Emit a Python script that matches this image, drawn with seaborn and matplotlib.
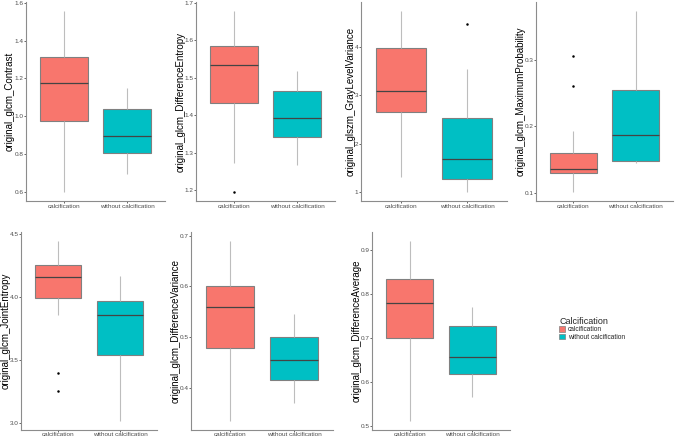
import pandas as pd
import seaborn as sns
from matplotlib import pyplot as plt
from matplotlib.patches import Patch

groups = ["calcification", "without calcification"]
colors = ["#F8766D", "#00BFC4"]

# 13 values per group (whiskers, quartiles, median, outliers)
contrast_calc = [0.600, 0.78, 0.90, 0.974, 1.05, 1.12, 1.177, 1.22, 1.27, 1.314, 1.38, 1.46, 1.556]
contrast_wo = [0.695, 0.74, 0.78, 0.805, 0.84, 0.87, 0.895, 0.94, 0.99, 1.039, 1.08, 1.12, 1.150]
diffent_calc = [1.195, 1.273, 1.38, 1.433, 1.47, 1.51, 1.535, 1.55, 1.57, 1.584, 1.61, 1.64, 1.678]
diffent_wo = [1.266, 1.30, 1.32, 1.341, 1.36, 1.38, 1.393, 1.42, 1.44, 1.465, 1.48, 1.50, 1.519]
glv_calc = [1.31, 1.9, 2.4, 2.655, 2.8, 2.95, 3.09, 3.4, 3.7, 3.966, 4.2, 4.5, 4.738]
glv_wo = [1.0, 1.1, 1.2, 1.276, 1.4, 1.55, 1.683, 1.9, 2.2, 2.52, 3.0, 3.545, 4.47]
maxprob_calc = [0.101, 0.115, 0.125, 0.1297, 0.132, 0.134, 0.1363, 0.142, 0.150, 0.1595, 0.193, 0.2607, 0.3065]
maxprob_wo = [0.1453, 0.1462, 0.1470, 0.1479, 0.160, 0.175, 0.1866, 0.205, 0.230, 0.2552, 0.29, 0.33, 0.3746]
jointent_calc = [3.254, 3.399, 3.857, 3.992, 4.05, 4.11, 4.159, 4.19, 4.22, 4.254, 4.31, 4.38, 4.447]
jointent_wo = [3.013, 3.25, 3.42, 3.540, 3.65, 3.77, 3.855, 3.90, 3.94, 3.971, 4.03, 4.10, 4.167]
diffvar_calc = [0.3346, 0.39, 0.44, 0.4793, 0.51, 0.54, 0.560, 0.575, 0.59, 0.600, 0.63, 0.66, 0.6895]
diffvar_wo = [0.370, 0.39, 0.405, 0.4151, 0.43, 0.445, 0.455, 0.47, 0.485, 0.4996, 0.515, 0.53, 0.546]
diffavg_calc = [0.5113, 0.59, 0.66, 0.6996, 0.73, 0.76, 0.7787, 0.80, 0.82, 0.833, 0.86, 0.89, 0.9196]
diffavg_wo = [0.5663, 0.59, 0.61, 0.6183, 0.63, 0.645, 0.6567, 0.68, 0.70, 0.7267, 0.74, 0.755, 0.7697]

features = [
    ("original_glcm_Contrast", contrast_calc, contrast_wo, [0.6, 0.8, 1.0, 1.2, 1.4, 1.6], "{:.1f}"),
    ("original_glcm_DifferenceEntropy", diffent_calc, diffent_wo, [1.2, 1.3, 1.4, 1.5, 1.6, 1.7], "{:.1f}"),
    ("original_glszm_GrayLevelVariance", glv_calc, glv_wo, [1, 2, 3, 4], "{:.0f}"),
    ("original_glcm_MaximumProbability", maxprob_calc, maxprob_wo, [0.1, 0.2, 0.3], "{:.1f}"),
    ("original_glcm_JointEntropy", jointent_calc, jointent_wo, [3.0, 3.5, 4.0, 4.5], "{:.1f}"),
    ("original_glcm_DifferenceVariance", diffvar_calc, diffvar_wo, [0.4, 0.5, 0.6, 0.7], "{:.1f}"),
    ("original_glcm_DifferenceAverage", diffavg_calc, diffavg_wo, [0.5, 0.6, 0.7, 0.8, 0.9], "{:.1f}"),
]

# panel boxes in pixels: left, right, top, bottom, y-label centre x
panels = [
    (26, 165, 2, 201, 10), (196, 335, 2, 201, 181), (361, 507, 2, 201, 350.5),
    (536, 673, 2, 201, 521), (21, 157, 232, 430, 5.5), (191, 333, 232, 430, 176),
    (372, 510, 232, 430, 357),
]

W, H = 676, 438
sns.set_style("white")
plt.rcParams["font.family"] = ["Liberation Sans", "DejaVu Sans"]
fig = plt.figure(figsize=(W / 100, H / 100), dpi=100)

for (name, calc, wo, ticks, fmt), (l, r, t, b, lx) in zip(features, panels):
    ax = fig.add_axes([l / W, 1 - b / H, (r - l) / W, (b - t) / H])
    df = pd.DataFrame({
        "group": [groups[0]] * len(calc) + [groups[1]] * len(wo),
        "value": calc + wo,
    })
    sns.boxplot(data=df, x="group", y="value", hue="group", palette=colors,
                order=groups, hue_order=groups, width=0.75, legend=False, ax=ax,
                saturation=1, linewidth=0.8, whis=1.5, dodge=False,
                boxprops=dict(edgecolor="#808080", linewidth=0.8),
                whiskerprops=dict(color="#bdbdbd", linewidth=0.8),
                capprops=dict(linewidth=0),
                medianprops=dict(color="#444444", linewidth=0.9),
                flierprops=dict(marker="o", markersize=0.8, markerfacecolor="black",
                                markeredgecolor="black"))
    lo = min(calc + wo)
    hi = max(calc + wo)
    pad = (hi - lo) * 0.05
    ax.set_ylim(lo - pad, hi + pad)
    ax.set_xlim(-0.6, 1.6)
    ax.set_yticks(ticks)
    ax.set_yticklabels([fmt.format(v) for v in ticks])
    ax.set_xlabel("")
    ax.set_ylabel(name, fontsize=7, color="black")
    ax.yaxis.label.set_verticalalignment("center")
    ax.yaxis.set_label_coords((lx - l) / (r - l), 0.5)
    ax.tick_params(axis="both", labelsize=4.6, colors="#4d4d4d", length=1.2, width=0.6,
                   pad=0.6, left=True, bottom=True)
    for side in ["top", "right"]:
        ax.spines[side].set_visible(False)
    for side in ["left", "bottom"]:
        ax.spines[side].set_color("#8c8c8c")
        ax.spines[side].set_linewidth(0.8)

handles = [Patch(facecolor=c, edgecolor="#808080", linewidth=0.5, label=g)
           for g, c in zip(groups, colors)]
fig.legend(handles=handles, title="Calcification", loc="upper left",
           bbox_to_anchor=(559 / W, 1 - 317 / H), frameon=False, fontsize=4.8,
           title_fontsize=6.5, handlelength=0.9, handleheight=0.8, handletextpad=0.4,
           labelspacing=0.05, borderaxespad=0, borderpad=0, alignment="left")

fig.savefig("out.png", dpi=100)
